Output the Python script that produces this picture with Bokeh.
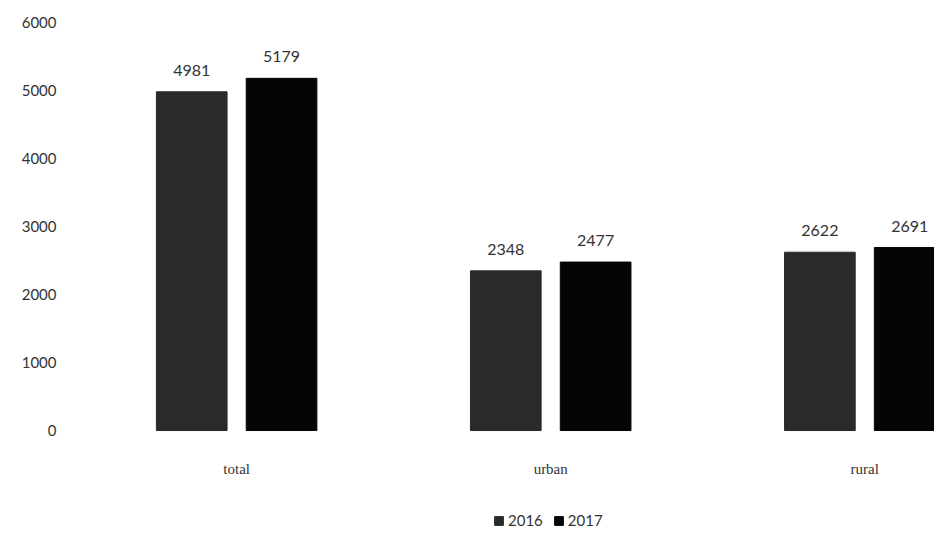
from bokeh.plotting import figure
from bokeh.models import ColumnDataSource, Legend, LegendItem, FixedTicker, LabelSet
from bokeh.embed import file_html
from bokeh.resources import INLINE

categories = ["total", "urban", "rural"]
years = ["2016", "2017"]
values_2016 = [4981, 2348, 2622]
values_2017 = [5179, 2477, 2691]
y_ticks = [0, 1000, 2000, 3000, 4000, 5000, 6000]

FONT = "Lato"
TXT = "#333333"
colors = ["#2a2a2a", "#050505"]
offsets = [-0.143, 0.143]
bar_w = 0.225

idx = list(range(len(categories)))

p = figure(frame_width=864, frame_height=509,
           output_backend="svg", toolbar_location=None,
           x_range=(-0.529, 2.222), y_range=(-1485, 6000),
           min_border_left=70, min_border_right=0, min_border_top=22,
           min_border_bottom=0)
p.outline_line_color = None
p.grid.grid_line_color = None
p.background_fill_color = "white"
p.border_fill_color = "white"
p.xaxis.visible = False

renderers = []
for vals, col, off, yr in zip([values_2016, values_2017], colors, offsets, years):
    src = ColumnDataSource(dict(x=[i + off for i in idx], top=vals,
                                lab=[str(v) for v in vals]))
    r = p.vbar(x="x", top="top", width=bar_w, source=src, fill_color=col,
               line_color=col)
    renderers.append((yr, r))
    p.text(x="x", y="top", text="lab", source=src, text_align="center",
           text_baseline="bottom", y_offset=-16, text_font_size="16px",
           text_color=TXT, text_font={"value": FONT})

# category labels under each group
cat_src = ColumnDataSource(dict(x=idx, y=[0] * len(idx), name=categories))
p.add_layout(LabelSet(x="x", y="y", text="name", source=cat_src,
                      text_align="center", text_baseline="middle", y_offset=-38,
                      text_font=FONT, text_font_size="15px", text_color=TXT))

p.yaxis.ticker = FixedTicker(ticks=y_ticks)
p.yaxis.axis_line_color = None
p.yaxis.major_tick_line_color = None
p.yaxis.minor_tick_line_color = None
p.yaxis.major_label_standoff = 8
p.yaxis.major_label_text_font = FONT
p.yaxis.major_label_text_font_size = "15px"
p.yaxis.major_label_text_color = TXT

legend = Legend(items=[LegendItem(label=yr, renderers=[r]) for yr, r in renderers],
                orientation="horizontal", location=(423, 2),
                label_text_font=FONT, label_text_font_size="15px",
                label_text_color=TXT, glyph_width=11, glyph_height=11,
                spacing=10, label_standoff=4, border_line_color=None,
                background_fill_alpha=0, margin=0, padding=2)
p.add_layout(legend, "center")

open("out.html", "w").write(file_html(p, INLINE))
